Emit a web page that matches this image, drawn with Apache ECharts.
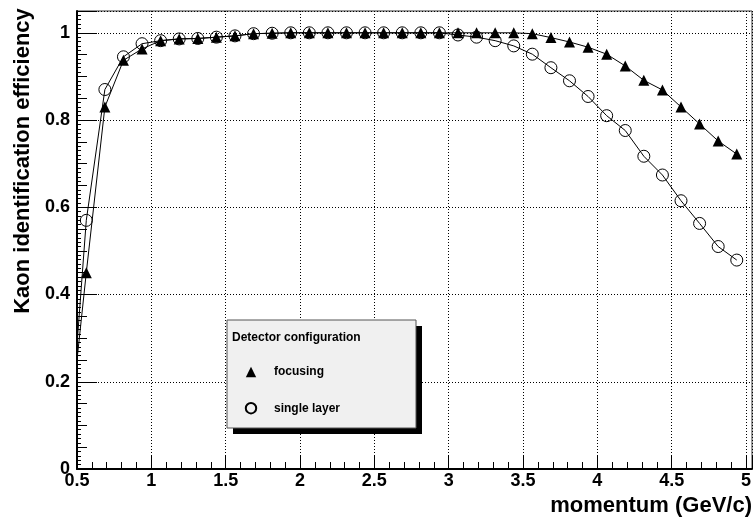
<!DOCTYPE html>
<html>
<head>
<meta charset="utf-8">
<script src="https://cdn.jsdelivr.net/npm/echarts@6/dist/echarts.min.js"></script>
<style>
  html, body { margin: 0; padding: 0; background: #fff; }
  #main { width: 755px; height: 518px; }
</style>
</head>
<body>
<div id="main"></div>
<script>
var myChart = echarts.init(document.getElementById('main'));

// momentum bin centres (GeV/c)
var momentum = [0.4375, 0.5625, 0.6875, 0.8125, 0.9375, 1.0625, 1.1875, 1.3125, 1.4375, 1.5625,
    1.6875, 1.8125, 1.9375, 2.0625, 2.1875, 2.3125, 2.4375, 2.5625, 2.6875, 2.8125,
    2.9375, 3.0625, 3.1875, 3.3125, 3.4375, 3.5625, 3.6875, 3.8125, 3.9375, 4.0625,
    4.1875, 4.3125, 4.4375, 4.5625, 4.6875, 4.8125, 4.9375];

// kaon id efficiency, focusing detector
var focusing = [0.05, 0.45, 0.83, 0.937, 0.963, 0.982, 0.986, 0.987, 0.990, 0.993,
    0.998, 0.999, 1.0, 1.0, 1.0, 1.0, 1.0, 1.0, 1.0, 1.0,
    1.0, 1.0, 1.0, 1.0, 1.0, 0.998, 0.989, 0.979, 0.967, 0.951,
    0.924, 0.891, 0.869, 0.830, 0.791, 0.752, 0.722];

// kaon id efficiency, single layer
var singleLayer = [0.0, 0.57, 0.87, 0.945, 0.975, 0.982, 0.986, 0.987, 0.990, 0.993,
    0.998, 0.999, 1.0, 1.0, 1.0, 1.0, 1.0, 1.0, 1.0, 1.0,
    1.0, 0.995, 0.990, 0.982, 0.970, 0.951, 0.920, 0.890, 0.854, 0.810,
    0.776, 0.717, 0.674, 0.615, 0.563, 0.510, 0.479];

var seriesNames = ['focusing', 'single layer'];

function pairs(ys) {
    return momentum.map(function (x, i) { return [x, ys[i]]; });
}

var font = 'Liberation Sans';

var dotted = { color: '#000', width: 1, type: [1, 2] };

option = {
    animation: false,
    backgroundColor: '#fff',
    grid: {
        left: 77,
        right: 2,
        top: 11,
        bottom: 49,
        show: true,
        borderColor: '#333',
        borderWidth: 1
    },
    graphic: [
        { type: 'rect', z: 100, shape: { x: 233, y: 326, width: 189, height: 108 }, style: { fill: '#000' } },
        { type: 'rect', z: 101, shape: { x: 227, y: 320, width: 189, height: 108 }, style: { fill: '#f0f0f0', stroke: '#555', lineWidth: 1 } },
        { type: 'text', z: 102, x: 232, y: 338, style: { text: 'Detector configuration', font: 'bold 12px "Liberation Sans"', fill: '#000', verticalAlign: 'middle' } }
    ],
    legend: {
        z: 110,
        orient: 'vertical',
        left: 232,
        top: 366,
        itemWidth: 36,
        itemHeight: 13,
        itemGap: 24,
        padding: 0,
        lineStyle: { opacity: 0 },
        textStyle: { fontFamily: font, fontWeight: 'bold', fontSize: 12, color: '#000' },
        data: seriesNames
    },
    xAxis: {
        type: 'value',
        min: 0.5,
        max: 5.04,
        interval: 0.5,
        name: 'momentum (GeV/c)',
        nameLocation: 'end',
        nameGap: 0,
        nameTextStyle: {
            fontFamily: font, fontWeight: 'bold', fontSize: 22, color: '#000',
            align: 'right', verticalAlign: 'top', padding: [26, 0, 0, 0]
        },
        axisLine: { onZero: false, lineStyle: { color: '#000', width: 2 } },
        axisTick: { inside: true, length: 14, lineStyle: { color: '#000', width: 1 } },
        minorTick: { show: true, splitNumber: 5, length: 7, lineStyle: { color: '#000', width: 1 } },
        axisLabel: {
            fontFamily: font, fontWeight: 'bold', fontSize: 18, color: '#000', margin: 3,
            showMaxLabel: false
        },
        splitLine: { show: true, lineStyle: dotted }
    },
    yAxis: [
        {
            type: 'value',
            min: 0,
            max: 1.05,
            interval: 0.2,
            name: 'Kaon identification efficiency',
            nameLocation: 'middle',
            nameGap: 42,
            nameTextStyle: {
                fontFamily: font, fontWeight: 'bold', fontSize: 22, color: '#000',
                padding: [0, 0, 0, 158]
            },
            axisLine: { show: true, onZero: false, lineStyle: { color: '#000', width: 2 } },
            axisTick: { inside: true, length: 20, lineStyle: { color: '#000', width: 1 } },
            minorTick: { show: true, splitNumber: 4, length: 10, lineStyle: { color: '#000', width: 1 } },
            axisLabel: {
                fontFamily: font, fontWeight: 'bold', fontSize: 18, color: '#000', margin: 7,
                showMaxLabel: false
            },
            splitLine: { show: true, lineStyle: dotted }
        },
        {
            type: 'value',
            position: 'left',
            min: 0,
            max: 1.05,
            interval: 0.01,
            axisLine: { show: false },
            axisTick: { show: true, inside: true, length: 4, lineStyle: { color: '#000', width: 1 } },
            axisLabel: { show: false },
            splitLine: { show: false }
        }
    ],
    series: [
        {
            name: 'single layer',
            type: 'line',
            data: pairs(singleLayer),
            symbol: 'circle',
            symbolSize: 12,
            showSymbol: true,
            lineStyle: { color: '#000', width: 1 },
            itemStyle: { color: 'rgba(0,0,0,0)', borderColor: '#000', borderWidth: 1 },
            z: 3
        },
        {
            name: 'focusing',
            type: 'line',
            data: pairs(focusing),
            symbol: 'triangle',
            symbolSize: 11,
            showSymbol: true,
            lineStyle: { color: '#000', width: 1 },
            itemStyle: { color: '#000' },
            z: 4
        }
    ]
};

myChart.setOption(option);
</script>
</body>
</html>
